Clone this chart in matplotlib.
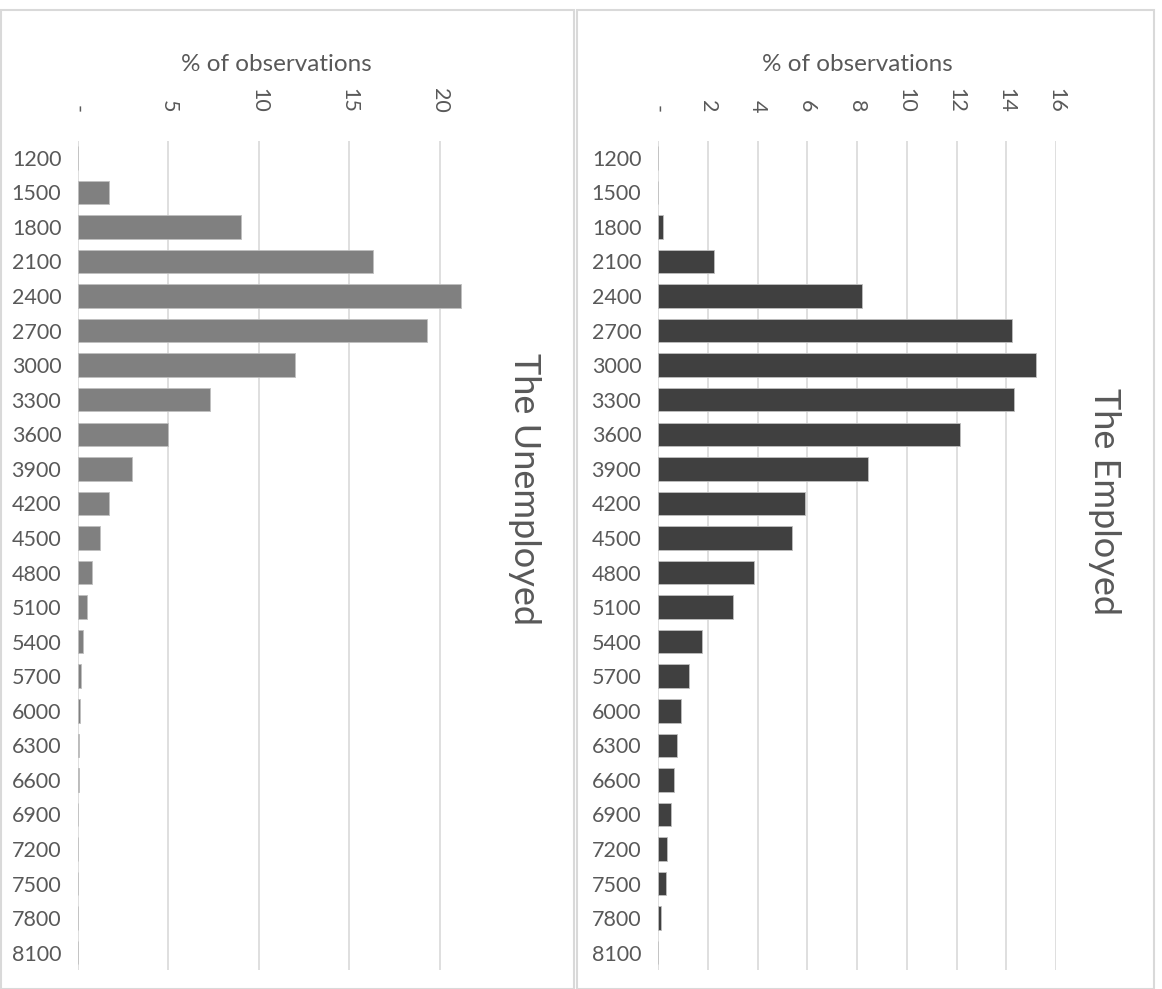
from matplotlib import pyplot as plt
from matplotlib.patches import Rectangle

# wage bins (categories, top to bottom)
wages = ['1200', '1500', '1800', '2100', '2400', '2700', '3000', '3300',
         '3600', '3900', '4200', '4500', '4800', '5100', '5400', '5700',
         '6000', '6300', '6600', '6900', '7200', '7500', '7800', '8100']

# % of observations
unemployed = [0, 1.7, 9.0, 16.3, 21.2, 19.3, 12.0, 7.3,
              5.0, 3.0, 1.7, 1.2, 0.8, 0.5, 0.29, 0.17,
              0.09, 0.05, 0.04, 0.02, 0.01, 0.01, 0, 0]
employed = [0, 0, 0.2, 2.25, 8.2, 14.25, 15.2, 14.3,
            12.15, 8.45, 5.9, 5.4, 3.85, 3.0, 1.78, 1.26,
            0.94, 0.76, 0.66, 0.51, 0.36, 0.31, 0.12, 0]

unemp_ticks = [0, 5, 10, 15, 20]
emp_ticks = [0, 2, 4, 6, 8, 10, 12, 14, 16]

TXT = '#595959'
GRID = '#d9d9d9'
plt.rcParams['font.family'] = ['Lato', 'DejaVu Sans']

W, H = 1162, 989
fig = plt.figure(figsize=(W / 100, H / 100), dpi=100)

# panel frames
fig.patches.append(Rectangle((1 / W, 0), 573 / W, 979 / H, transform=fig.transFigure,
                             fill=False, edgecolor=GRID, lw=1.5))
fig.patches.append(Rectangle((577 / W, 0), 577 / W, 979 / H, transform=fig.transFigure,
                             fill=False, edgecolor=GRID, lw=1.5))


def panel(left_px, right_px, vals, ticks, xmax, color, name, name_x, name_y):
    ax = fig.add_axes([left_px / W, 19 / H, (right_px - left_px) / W, 829.5 / H])
    y = range(len(wages))
    ax.barh(y, vals, height=0.68, color=color, edgecolor='#bfbfbf', linewidth=0.6, zorder=3)
    ax.set_ylim(len(wages) - 0.5, -0.5)
    ax.set_xlim(0, xmax)
    ax.set_yticks(list(y))
    ax.set_yticklabels(wages, fontsize=15.5, color=TXT)
    ax.xaxis.tick_top()
    ax.set_xticks(ticks)
    ax.set_xticklabels(['-'] + [str(t) for t in ticks[1:]], rotation=-90,
                       fontsize=15.5, color=TXT, va='bottom')
    ax.tick_params(length=0, pad=12)
    ax.tick_params(axis='x', pad=20)
    ax.grid(axis='x', color=GRID, lw=1.2, zorder=0)
    for s in ax.spines.values():
        s.set_visible(False)
    ax.set_xlabel('% of observations', fontsize=17.5, color=TXT, labelpad=12)
    ax.xaxis.set_label_position('top')
    fig.text(name_x / W, 1 - name_y / H, name, rotation=-90, fontsize=26,
             color=TXT, ha='center', va='center')
    return ax


panel(78, 474, unemployed, unemp_ticks, 21.9, '#808080', 'The Unemployed', 525, 489)
panel(658, 1056, employed, emp_ticks, 16.0, '#404040', 'The Employed', 1105, 502)

fig.savefig('out.png', dpi=100)
